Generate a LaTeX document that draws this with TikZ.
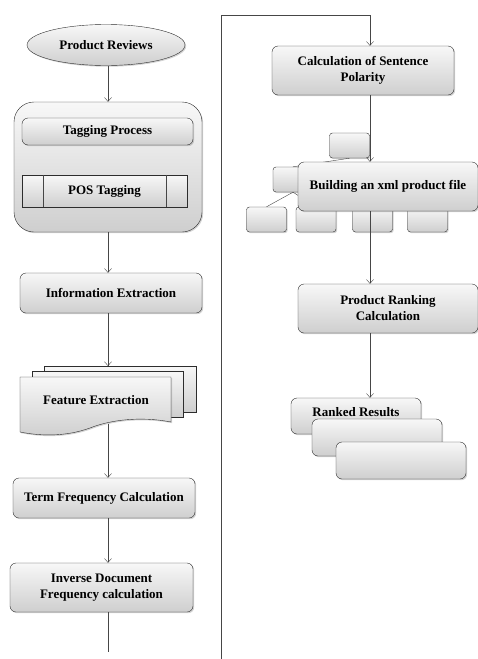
\documentclass[tikz,border=0pt]{standalone}
\usepackage{fontspec}
\setmainfont{Liberation Serif}
\usetikzlibrary{arrows.meta,shapes.geometric,shadows}

\begin{document}
\begin{tikzpicture}[x=1pt,y=-1pt,
  every node/.style={font=\bfseries\fontsize{13}{16}\selectfont, align=center},
  proc/.style={draw=gray!35!black, rounded corners=6pt, top color=gray!6, bottom color=gray!38,
    drop shadow={shadow xshift=1.2pt, shadow yshift=-1.2pt, opacity=0.35}},
  doc/.style={draw=gray!35!black, top color=gray!6, bottom color=gray!38,
    drop shadow={shadow xshift=1.2pt, shadow yshift=-1.2pt, opacity=0.35}},
  small/.style={proc, rounded corners=3pt, minimum width=40, minimum height=25},
  arr/.style={draw=gray!55!black, -{Straight Barb[length=4pt,width=7pt]}},
  link/.style={draw=gray!55!black}]
\useasboundingbox (0,0) rectangle (478,659);
% left column
\node[proc, ellipse, minimum width=158, minimum height=41] (rev) at (106,45) {Product Reviews};
\node[proc, rounded corners=20pt, minimum width=188, minimum height=130] (cont) at (108,167) {};
\node[proc, minimum width=171, minimum height=27] (tag) at (107.5,131.5) {Tagging Process};
\node[proc, rounded corners=0pt, minimum width=165, minimum height=32] (pos) at (104.5,191) {POS Tagging};
\draw[link] ([xshift=21pt]pos.north west) -- ([xshift=21pt]pos.south west)
  ([xshift=-21pt]pos.north east) -- ([xshift=-21pt]pos.south east);
\node[proc, minimum width=182, minimum height=40] (info) at (111,293) {Information Extraction};
% stacked documents
\path[doc] (44,366) rectangle (196,412);
\path[doc] (32,371) rectangle (183,417);
\path[doc] (20,377) -- (171,377) -- (171,422) .. controls (140,416) and (110,420) .. (90,428)
  .. controls (65,437) and (40,436) .. (20,432) -- cycle;
\node (feat) at (96,400) {Feature Extraction};
\coordinate (featin) at (108,366);
\coordinate (featout) at (108,424);
\node[proc, minimum width=182, minimum height=40] (term) at (104,498) {Term Frequency Calculation};
\node[proc, minimum width=183, minimum height=49] (idf) at (101.5,587.5) {Inverse Document\\Frequency calculation};
\coordinate (lend) at (108,652);
\draw[arr] (cont.north |- rev.south) -- (cont.north);
\draw[arr] (cont.south) -- (cont.south |- info.north);
\draw[arr] (cont.south |- info.south) -- (featin);
\draw[arr] (featout) -- (featout |- term.north);
\draw[arr] (featout |- term.south) -- (featout |- idf.north);
\draw[link] (featout |- idf.south) -- (lend);
% right column
\coordinate (rtop) at (221,15);
\coordinate (rbot) at (221,659);
\coordinate (rx) at (370,0);
\node[proc, minimum width=182, minimum height=49] (pol) at (363,70.5) {Calculation of Sentence\\Polarity};
\draw[arr] (rbot) -- (rtop) -| (rx |- pol.north);
% hierarchy icon
\node[small] (org0) at (349.5,145.5) {};
\node[small] (org1) at (293,179.5) {};
\node[small] (org2) at (266.5,219.5) {};
\node[small] (org3) at (316,219.5) {};
\node[small] (org4) at (372.5,219.5) {};
\node[small] (org5) at (427.5,219.5) {};
\draw[link] (org0.south) -- (org1.north);
\draw[link] (org1.south) -- (org2.north);
\draw[link] (org1.south) -- (org3.north);
\node[proc, minimum width=180, minimum height=49] (build) at (388,186.5) {Building an xml product file};
\node[proc, minimum width=180, minimum height=49] (rank) at (388,308.5) {Product Ranking\\Calculation};
\draw[arr] (rx |- pol.south) -- (rx |- build.north);
\draw[arr] (rx |- build.south) -- (rx |- rank.north);
% ranked results stack
\node[proc, minimum width=130, minimum height=36,
  label={[yshift=4pt]center:Ranked Results}] (res1) at (356,416) {};
\node[proc, minimum width=130, minimum height=37] (res2) at (377,437.5) {};
\node[proc, minimum width=130, minimum height=37] (res3) at (401,460.5) {};
\draw[arr] (rx |- rank.south) -- (rx |- res1.north);
\end{tikzpicture}
\end{document}
